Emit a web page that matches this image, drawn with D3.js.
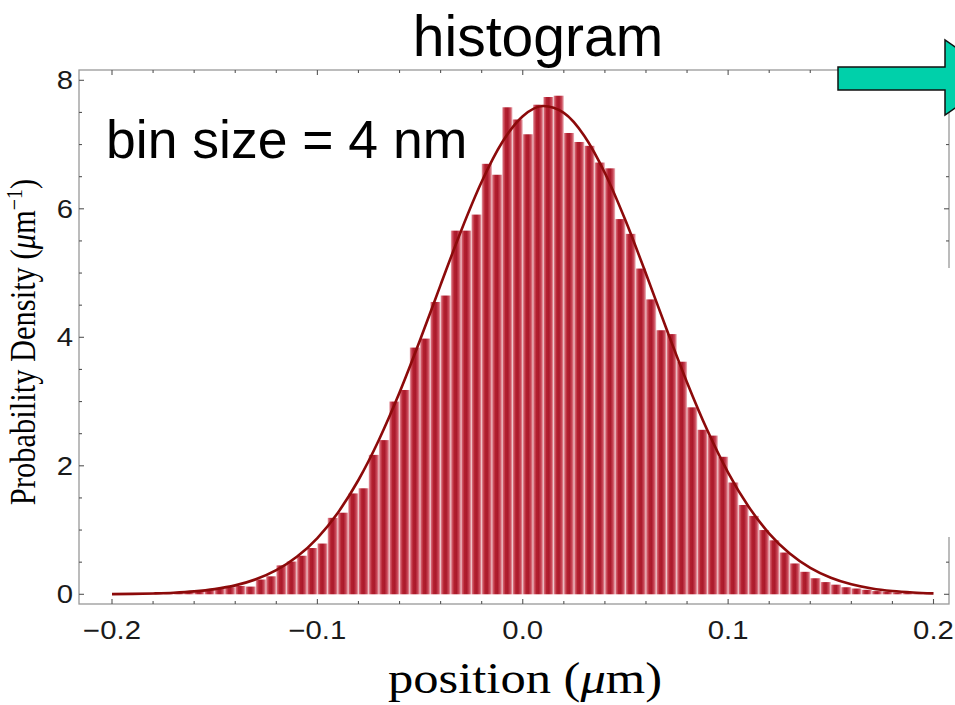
<!DOCTYPE html>
<html>
<head>
<meta charset="utf-8">
<script src="https://cdn.jsdelivr.net/npm/d3@7"></script>
<style>
  html, body { margin: 0; padding: 0; background: #fff; }
  svg { display: block; }
</style>
</head>
<body>
<svg id="chart" width="955" height="705"></svg>
<script>
// Histogram of measured positions (bin width 0.005 µm, from -0.2 to 0.2 µm)
const binStart = -0.2;
const binWidth = 0.005;
const density = [
  0.004, 0.006, 0.008, 0.012, 0.015, 0.02, 0.028, 0.035,
  0.05, 0.07, 0.09, 0.11, 0.13, 0.12, 0.23, 0.28,
  0.45, 0.51, 0.60, 0.72, 0.79, 1.19, 1.27, 1.57,
  1.65, 2.17, 2.40, 3.00,
  3.18, 3.84, 3.98, 4.55, 4.65, 5.66, 5.66, 5.91,
  6.70, 6.53, 7.58, 7.39, 7.16, 7.62,
  7.74, 7.76, 7.18, 7.04, 6.98, 6.72, 6.63, 5.84,
  5.61, 5.07, 4.59, 4.11, 4.05,
  3.62, 2.91, 2.56, 2.47, 2.14, 1.74, 1.39, 1.22,
  1.00, 0.84, 0.65, 0.48, 0.35, 0.25, 0.19, 0.15,
  0.11, 0.09, 0.07, 0.05, 0.04, 0.03, 0.02, 0.015, 0.01
];

// Fitted density curve, sampled every 0.01 µm
const fitX = [
  -0.20, -0.19, -0.18, -0.17, -0.16, -0.15, -0.14, -0.13, -0.12, -0.11,
  -0.10, -0.09, -0.08, -0.07, -0.06, -0.05, -0.04, -0.03, -0.02, -0.01,
   0.00,  0.01,  0.02,  0.03,  0.04,  0.05,  0.06,  0.07,  0.08,  0.09,
   0.10,  0.11,  0.12,  0.13,  0.14,  0.15,  0.16,  0.17,  0.18,  0.19, 0.20
];
const fitY = [
  0.003, 0.006, 0.013, 0.024, 0.045, 0.081, 0.139, 0.233, 0.375, 0.583,
  0.876, 1.270, 1.779, 2.406, 3.140, 3.957, 4.816, 5.660, 6.421, 7.035,
  7.440, 7.599, 7.493, 7.134, 6.558, 5.821, 4.989, 4.128, 3.298, 2.545,
  1.895, 1.363, 0.946, 0.635, 0.411, 0.257, 0.155, 0.090, 0.051, 0.028, 0.014
];

const xMajorTicks = [-0.2, -0.1, 0.0, 0.1, 0.2];
const xTickLabels = ["\u22120.2", "\u22120.1", "0.0", "0.1", "0.2"];
const yMajorTicks = [0, 2, 4, 6, 8];
const yTickLabels = ["0", "2", "4", "6", "8"];

const titleText = "histogram";
const noteText = "bin size = 4 nm";

const svg = d3.select("#chart");

// Scales
const x = d3.scaleLinear().domain([-0.2, 0.2]).range([112, 933.5]);
const y = d3.scaleLinear().domain([0, 8]).range([594.3, 80.3]);

const frame = { left: 79, right: 949, top: 70, bottom: 604 };
const stretch = 1.15;

// Bar shading (cylinder-like horizontal gradient)
const defs = svg.append("defs");
const grad = defs.append("linearGradient")
  .attr("id", "barFill").attr("x1", "0").attr("x2", "1").attr("y1", "0").attr("y2", "0");
[["0%", "#eab3ba"], ["12%", "#d25b6a"], ["32%", "#b3202f"], ["55%", "#aa192b"],
 ["80%", "#cb4a5a"], ["100%", "#edbcc2"]].forEach(([o, c]) =>
  grad.append("stop").attr("offset", o).attr("stop-color", c));

svg.append("rect").attr("width", 955).attr("height", 705).attr("fill", "#fff");

// Bars
svg.append("g").selectAll("rect")
  .data(density)
  .join("rect")
  .attr("x", (d, i) => x(binStart + i * binWidth))
  .attr("width", (d, i) => x(binStart + (i + 1) * binWidth) - x(binStart + i * binWidth))
  .attr("y", d => y(d))
  .attr("height", d => y(0) - y(d))
  .attr("fill", "url(#barFill)");

// Fit curve
const line = d3.line()
  .x((d, i) => x(fitX[i]))
  .y(d => y(d))
  .curve(d3.curveMonotoneX);
svg.append("path")
  .datum(fitY)
  .attr("d", line)
  .attr("fill", "none")
  .attr("stroke", "#8c0a0a")
  .attr("stroke-width", 2.6);

// Frame
const frameG = svg.append("g");
frameG.append("rect")
  .attr("x", frame.left).attr("y", frame.top)
  .attr("width", frame.right - frame.left).attr("height", frame.bottom - frame.top)
  .attr("fill", "none").attr("stroke", "#999").attr("stroke-width", 1.3);

// Frame ticks (pointing inwards, on all four sides)
const xMinor = d3.range(-0.2, 0.2001, 0.02).map(v => +v.toFixed(2));
const yMinor = d3.range(0, 8.001, 0.5);
const isMajorX = v => xMajorTicks.some(t => Math.abs(t - v) < 1e-9);
const isMajorY = v => yMajorTicks.some(t => Math.abs(t - v) < 1e-9);
const tickColor = "#555";

xMinor.forEach(v => {
  const len = isMajorX(v) ? 5 : 3;
  frameG.append("line").attr("x1", x(v)).attr("x2", x(v))
    .attr("y1", frame.bottom).attr("y2", frame.bottom - len)
    .attr("stroke", tickColor).attr("stroke-width", 1.1);
  frameG.append("line").attr("x1", x(v)).attr("x2", x(v))
    .attr("y1", frame.top).attr("y2", frame.top + len)
    .attr("stroke", tickColor).attr("stroke-width", 1.1);
});
yMinor.forEach(v => {
  const len = isMajorY(v) ? 5 : 3;
  frameG.append("line").attr("y1", y(v)).attr("y2", y(v))
    .attr("x1", frame.left).attr("x2", frame.left + len)
    .attr("stroke", tickColor).attr("stroke-width", 1.1);
  frameG.append("line").attr("y1", y(v)).attr("y2", y(v))
    .attr("x1", frame.right).attr("x2", frame.right - len)
    .attr("stroke", tickColor).attr("stroke-width", 1.1);
});

// Tick labels
const tickFont = "'Liberation Sans', Arial, sans-serif";
svg.append("g").selectAll("text")
  .data(xMajorTicks)
  .join("text")
  .attr("transform", d => `translate(${x(d)},638.5) scale(${stretch},1)`)
  .attr("text-anchor", "middle")
  .attr("font-family", tickFont)
  .attr("font-size", 25.5)
  .attr("fill", "#1a1a1a")
  .text((d, i) => xTickLabels[i]);

svg.append("g").selectAll("text")
  .data(yMajorTicks)
  .join("text")
  .attr("transform", d => `translate(73,${y(d) + 9}) scale(${stretch},1)`)
  .attr("text-anchor", "end")
  .attr("font-family", tickFont)
  .attr("font-size", 25.5)
  .attr("fill", "#1a1a1a")
  .text((d, i) => yTickLabels[i]);

// Axis titles (serif, as in the plotting package)
const serif = "'Liberation Serif', 'Times New Roman', serif";
const xt = svg.append("text")
  .attr("transform", `translate(525,693) scale(${stretch},1)`)
  .attr("text-anchor", "middle")
  .attr("font-family", serif)
  .attr("font-size", 44)
  .attr("fill", "#000");
xt.append("tspan").text("position (");
xt.append("tspan").attr("font-style", "italic").text("\u03bc");
xt.append("tspan").text("m)");

const yt = svg.append("text")
  .attr("transform", `translate(35,342) rotate(-90) scale(1,${stretch})`)
  .attr("text-anchor", "middle")
  .attr("font-family", serif)
  .attr("font-size", 30.5)
  .attr("fill", "#000");
yt.append("tspan").text("Probability Density (");
yt.append("tspan").attr("font-style", "italic").text("\u03bc");
yt.append("tspan").text("m");
yt.append("tspan").attr("baseline-shift", "super").attr("font-size", 20).text("\u22121");
yt.append("tspan").text(")");

// Slide title and note
svg.append("text")
  .attr("x", 538).attr("y", 56)
  .attr("text-anchor", "middle")
  .attr("font-family", tickFont)
  .attr("font-size", 57)
  .attr("fill", "#000")
  .text(titleText);

svg.append("text")
  .attr("x", 106).attr("y", 158)
  .attr("font-family", tickFont)
  .attr("font-size", 53.5)
  .attr("fill", "#000")
  .text(noteText);

// Part of the right frame edge is hidden by the slide background
svg.append("rect")
  .attr("x", frame.right - 8).attr("y", 268)
  .attr("width", 955 - frame.right + 8).attr("height", 269)
  .attr("fill", "#fff");

// Block arrow at the upper right, running off the page edge
svg.append("polygon")
  .attr("points", [[838, 67], [945, 67], [945, 40], [1000, 77.5], [945, 115], [945, 90], [838, 90]]
    .map(p => p.join(",")).join(" "))
  .attr("fill", "#00d0aa")
  .attr("stroke", "#111")
  .attr("stroke-width", 1.5);
</script>
</body>
</html>
